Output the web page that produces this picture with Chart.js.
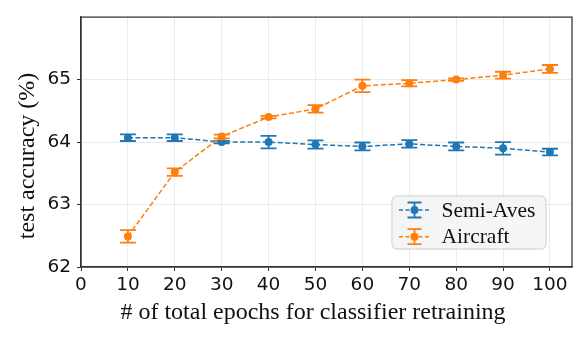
<!DOCTYPE html>
<html>
<head>
<meta charset="utf-8">
<script src="https://cdn.jsdelivr.net/npm/chart.js@4.4.1/dist/chart.umd.min.js"></script>
<style>
html,body{margin:0;padding:0;background:#fff;}
#wrap{width:586px;height:342px;position:relative;}
</style>
</head>
<body>
<div id="wrap"><canvas id="c" width="586" height="342"></canvas></div>
<script>
// ---- data ----
const epochs = [10, 20, 30, 40, 50, 60, 70, 80, 90, 100];
const semiAvesMean = [64.07, 64.07, 64.00, 64.00, 63.96, 63.93, 63.97, 63.93, 63.90, 63.84];
const semiAvesErr  = [0.053, 0.053, 0.02, 0.10, 0.066, 0.063, 0.06, 0.063, 0.10, 0.053];
const aircraftMean = [62.49, 63.52, 64.09, 64.40, 64.53, 64.90, 64.94, 65.00, 65.07, 65.17];
const aircraftErr  = [0.10, 0.06, 0.03, 0.02, 0.06, 0.10, 0.05, 0.02, 0.055, 0.063];
const seriesNames = ['Semi-Aves', 'Aircraft'];
const xTickValues = [0, 10, 20, 30, 40, 50, 60, 70, 80, 90, 100];
const yTickValues = [62, 63, 64, 65];
const xTitle = '# of total epochs for classifier retraining';
const yTitle = 'test accuracy (%)';

const BLUE = '#1f77b4', ORANGE = '#ff7f0e';
const SERIF = '"Liberation Serif", "DejaVu Serif", serif';

const errs = [semiAvesErr, aircraftErr];

const errorBars = {
  id: 'errorBars',
  beforeDatasetDraw(chart, args) {
    const i = args.index;
    const ds = chart.data.datasets[i];
    const ctx = chart.ctx, xs = chart.scales.x, ys = chart.scales.y;
    ctx.save();
    ctx.strokeStyle = ds.borderColor;
    ctx.lineWidth = 1.8;
    ds.data.forEach((p, k) => {
      const e = errs[i][k];
      const x = xs.getPixelForValue(p.x);
      const y1 = ys.getPixelForValue(p.y + e);
      const y2 = ys.getPixelForValue(p.y - e);
      ctx.beginPath();
      ctx.moveTo(x, y1); ctx.lineTo(x, y2);
      ctx.moveTo(x - 8, y1); ctx.lineTo(x + 8, y1);
      ctx.moveTo(x - 8, y2); ctx.lineTo(x + 8, y2);
      ctx.stroke();
    });
    ctx.restore();
  }
};

const frame = {
  id: 'frame',
  afterDraw(chart) {
    const ctx = chart.ctx, a = chart.chartArea;
    ctx.save();
    ctx.strokeStyle = '#333';
    ctx.lineWidth = 1.25;
    ctx.strokeRect(a.left, a.top, a.right - a.left, a.bottom - a.top);
    // axis titles
    ctx.fillStyle = '#111';
    ctx.font = '24px ' + SERIF;
    ctx.textAlign = 'center';
    ctx.textBaseline = 'alphabetic';
    ctx.fillText(xTitle, 313, 319);
    ctx.save();
    ctx.translate(34, 156);
    ctx.rotate(-Math.PI / 2);
    ctx.fillText(yTitle, 0, 0);
    ctx.restore();
    // legend
    const bx = 392, by = 196, bw = 154, bh = 53, r = 5;
    ctx.beginPath();
    ctx.roundRect(bx, by, bw, bh, r);
    ctx.fillStyle = 'rgba(244,244,244,0.9)';
    ctx.fill();
    ctx.strokeStyle = '#dcdcdc';
    ctx.lineWidth = 1.5;
    ctx.stroke();
    const rows = [210, 236.7];
    chart.data.datasets.forEach((ds, i) => {
      const y = rows[i], cx = 414.5;
      ctx.strokeStyle = ds.borderColor;
      ctx.lineWidth = 1.4;
      ctx.setLineDash([4, 2.5]);
      ctx.beginPath(); ctx.moveTo(399, y); ctx.lineTo(431, y); ctx.stroke();
      ctx.setLineDash([]);
      ctx.lineWidth = 1.8;
      ctx.beginPath();
      ctx.moveTo(cx, y - 7.5); ctx.lineTo(cx, y + 7.5);
      ctx.moveTo(cx - 7, y - 7.5); ctx.lineTo(cx + 7, y - 7.5);
      ctx.moveTo(cx - 7, y + 7.5); ctx.lineTo(cx + 7, y + 7.5);
      ctx.stroke();
      ctx.fillStyle = ds.borderColor;
      ctx.beginPath(); ctx.arc(cx, y, 4, 0, Math.PI * 2); ctx.fill();
      ctx.fillStyle = '#111';
      ctx.font = '21.5px ' + SERIF;
      ctx.textAlign = 'left';
      ctx.textBaseline = 'middle';
      ctx.fillText(ds.label, 441.5, y + 1);
    });
    ctx.restore();
  }
};

function mk(means) { return epochs.map((x, k) => ({ x: x, y: means[k] })); }

new Chart(document.getElementById('c'), {
  type: 'line',
  data: {
    datasets: [
      { label: seriesNames[0], data: mk(semiAvesMean), borderColor: BLUE, backgroundColor: BLUE,
        borderWidth: 1.5, borderDash: [5, 2.5], pointRadius: 4, pointBorderWidth: 0,
        pointBackgroundColor: BLUE, fill: false, tension: 0, order: 1 },
      { label: seriesNames[1], data: mk(aircraftMean), borderColor: ORANGE, backgroundColor: ORANGE,
        borderWidth: 1.5, borderDash: [5, 2.5], pointRadius: 4, pointBorderWidth: 0,
        pointBackgroundColor: ORANGE, fill: false, tension: 0, order: 0 }
    ]
  },
  options: {
    responsive: false,
    animation: false,
    events: [],
    layout: { padding: { left: 0, right: 14, top: 15, bottom: 0 } },
    plugins: { legend: { display: false }, tooltip: { enabled: false } },
    scales: {
      x: {
        type: 'linear', min: 0, max: 104.7,
        afterBuildTicks(s) { s.ticks = xTickValues.map(v => ({ value: v })); },
        afterFit(s) { s.height = 75; },
        grid: { color: '#ebebeb', lineWidth: 1, tickColor: '#333', tickLength: 4, drawTicks: true },
        border: { display: true, color: '#333', width: 1.25 },
        ticks: { font: { family: '"DejaVu Sans"', size: 18.5 }, color: '#111', padding: 3, maxRotation: 0, autoSkip: false }
      },
      y: {
        type: 'linear', min: 62, max: 66,
        afterBuildTicks(s) { s.ticks = yTickValues.map(v => ({ value: v })); },
        afterFit(s) { s.width = 81; },
        grid: { color: '#ebebeb', lineWidth: 1, tickColor: '#333', tickLength: 4, drawTicks: true },
        border: { display: true, color: '#333', width: 1.25 },
        ticks: { font: { family: '"DejaVu Sans"', size: 18.5 }, color: '#111', padding: 6 }
      }
    }
  },
  plugins: [errorBars, frame]
});
</script>
</body>
</html>
